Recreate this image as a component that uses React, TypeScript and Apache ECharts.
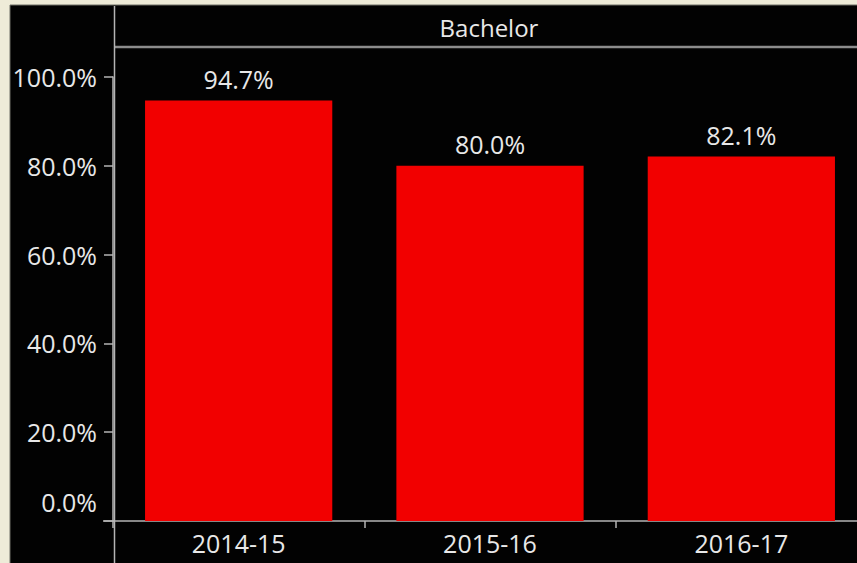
import React, { useEffect, useRef } from "react";
import * as echarts from "echarts";

const categories = ["2014-15", "2015-16", "2016-17"];
const values = [94.7, 80.0, 82.1];
const panelTitle = "Bachelor";
const yTicks = { min: 0, max: 100, interval: 20 };

const FONT = "'Open Sans', 'DejaVu Sans', sans-serif";
const TEXT = "#e8e8e8";
const AXIS = "#b4b4b4";
const FS = 25;

export default function App() {
  const ref = useRef<HTMLDivElement>(null);
  useEffect(() => {
    document.body.style.margin = "0";
    const chart = echarts.init(ref.current!, null, { renderer: "svg" });
    chart.setOption({
      animation: false,
      backgroundColor: "#eeebd8",
      graphic: [
        { type: "rect", z: -10, shape: { x: 10, y: 5, width: 860, height: 570 }, style: { fill: "#020202", stroke: "#6e6e66", lineWidth: 1 } },
        { type: "line", z: 5, shape: { x1: 114, y1: 47, x2: 860, y2: 47 }, style: { stroke: "#8c8c8c", lineWidth: 2.5 } },
        { type: "line", z: 5, shape: { x1: 114.5, y1: 6, x2: 114.5, y2: 563 }, style: { stroke: AXIS, lineWidth: 1.5 } },
        { type: "line", z: 5, shape: { x1: 103, y1: 521, x2: 115, y2: 521 }, style: { stroke: AXIS, lineWidth: 1.5 } },
        { type: "text", z: 6, style: { text: panelTitle, x: 489, y: 27, align: "center", verticalAlign: "middle", fill: TEXT, font: `24px ${FONT}` } },
      ],
      grid: { left: 113, top: 77, width: 754, bottom: 42, containLabel: false, outerBoundsMode: "none" },
      xAxis: {
        type: "category",
        data: categories,
        axisLine: { show: true, lineStyle: { color: AXIS, width: 1.5 } },
        axisTick: { show: true, length: 7, lineStyle: { color: AXIS, width: 1.5 } },
        axisLabel: { color: TEXT, fontFamily: FONT, fontSize: FS, margin: 9 },
        splitLine: { show: false },
      },
      yAxis: {
        type: "value",
        min: yTicks.min,
        max: yTicks.max,
        interval: yTicks.interval,
        axisLine: { show: true, lineStyle: { color: AXIS, width: 1.5 } },
        axisTick: { show: true, length: 9, lineStyle: { color: AXIS, width: 1.5 } },
        splitLine: { show: false },
        axisLabel: {
          color: TEXT,
          fontFamily: FONT,
          fontSize: FS,
          margin: 16,
          formatter: (v: number) => (v === 0 ? "{zero|0.0%}" : v.toFixed(1) + "%"),
          rich: { zero: { color: TEXT, fontFamily: FONT, fontSize: FS, padding: [0, 0, 38, 0] } },
        },
      },
      series: [
        {
          type: "bar",
          data: values,
          barCategoryGap: "25.5%",
          itemStyle: { color: "#f20000" },
          label: {
            show: true,
            position: "top",
            distance: 9,
            color: TEXT,
            fontFamily: FONT,
            fontSize: FS,
            formatter: (p: any) => p.value.toFixed(1) + "%",
          },
        },
      ],
    });
    return () => chart.dispose();
  }, []);
  return <div ref={ref} style={{ width: 857, height: 563 }} />;
}
